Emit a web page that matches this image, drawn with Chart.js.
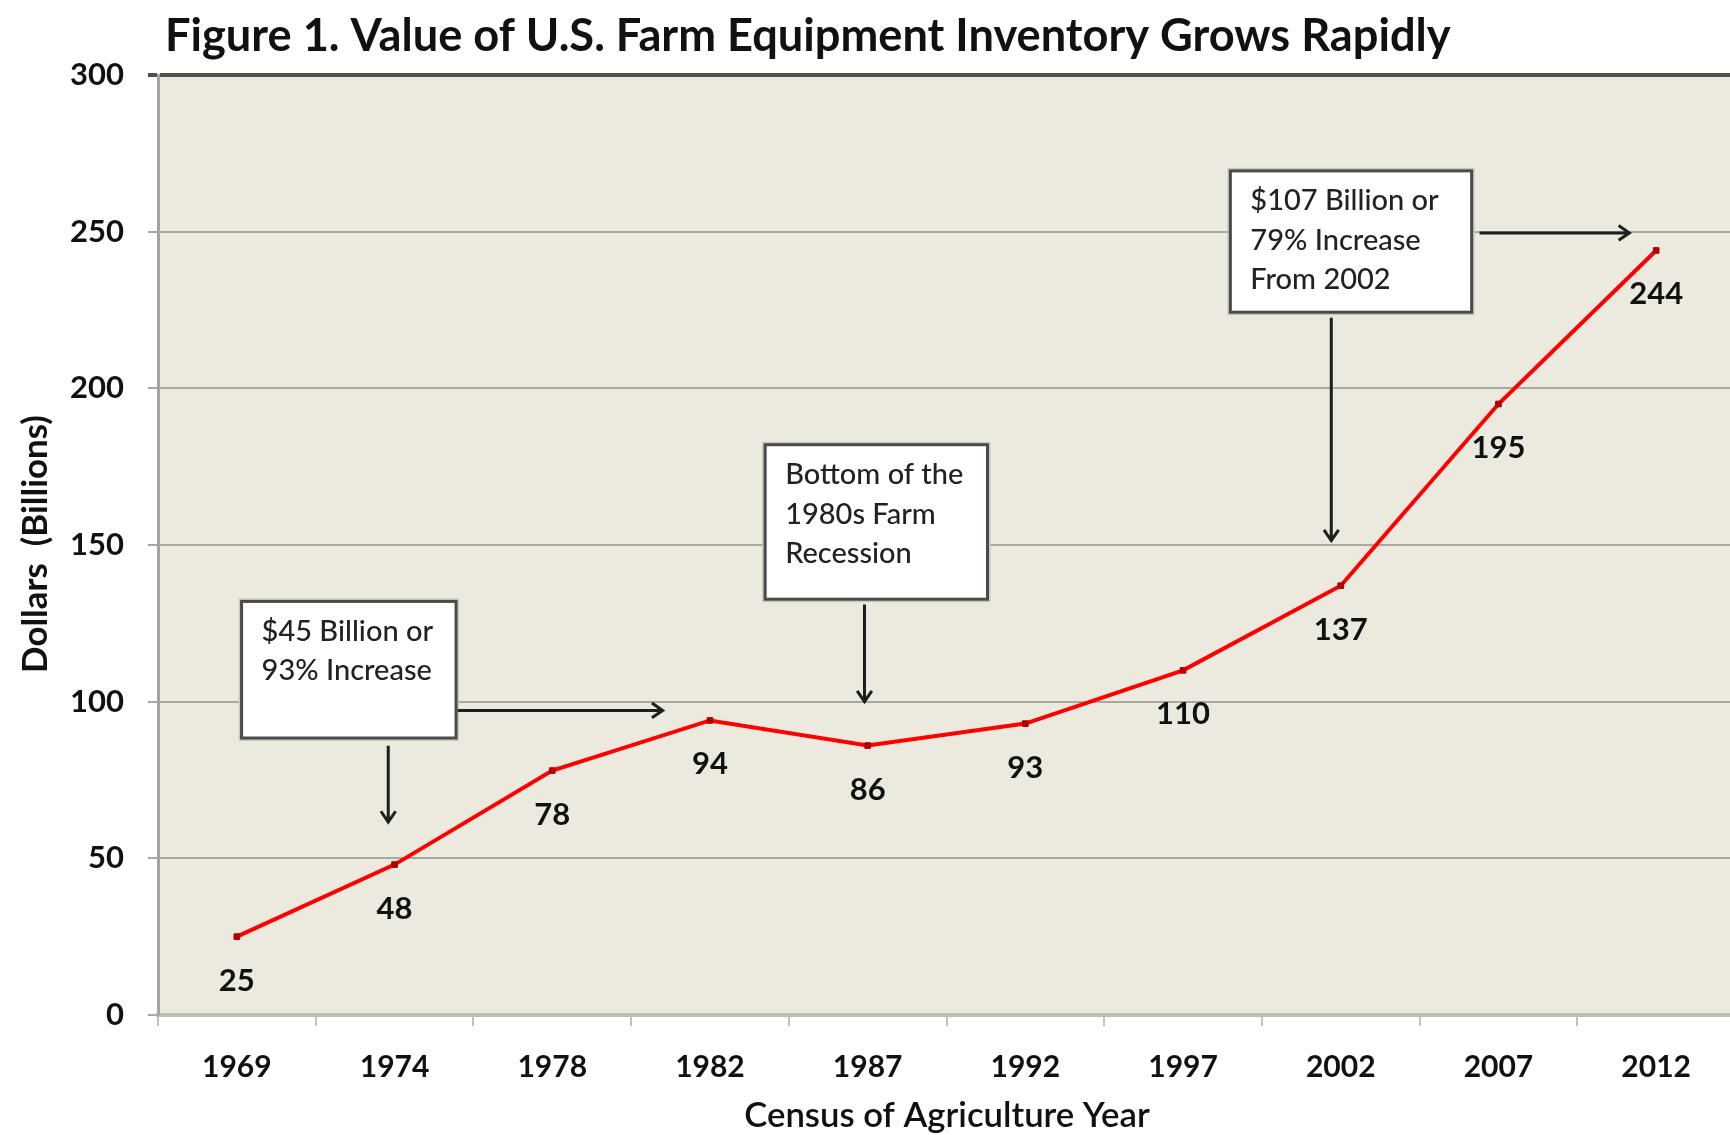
<!DOCTYPE html>
<html>
<head>
<meta charset="utf-8">
<script src="https://cdn.jsdelivr.net/npm/chart.js@4.4.1/dist/chart.umd.min.js"></script>
<style>
  html, body { margin: 0; padding: 0; background: #fff; overflow: hidden; }
  canvas { display: block; }
</style>
</head>
<body>
<canvas id="myChart" width="1740" height="1135"></canvas>
<script>
// data
const years = ['1969', '1974', '1978', '1982', '1987', '1992', '1997', '2002', '2007', '2012'];
const values = [25, 48, 78, 94, 86, 93, 110, 137, 195, 244];
const yMin = 0;
const yMax = 300;
const yStep = 50;

const titleText = 'Figure 1. Value of U.S. Farm Equipment Inventory Grows Rapidly';
const yTitle = 'Dollars  (Billions)';
const xTitle = 'Census of Agriculture Year';

const noteTexts = [
    ['$45 Billion or', '93% Increase'],
    ['Bottom of the', '1980s Farm', 'Recession'],
    ['$107 Billion or', '79% Increase', 'From 2002']
];
// boxes and arrows, in category index / value units
const noteBoxes = [
    { x0: 0.03, x1: 1.39, y0: 132, y1: 88.4 },
    { x0: 3.35, x1: 4.76, y0: 182, y1: 132.7 },
    { x0: 6.30, x1: 7.83, y0: 269.4, y1: 224.3 }
];
const noteArrows = [
    { x0: 0.96, y0: 85.9, x1: 0.96, y1: 61.6 },
    { x0: 1.40, y0: 97.2, x1: 2.70, y1: 97.2 },
    { x0: 3.98, y0: 131, x1: 3.98, y1: 100 },
    { x0: 6.94, y0: 222.5, x1: 6.94, y1: 151.4 },
    { x0: 7.88, y0: 249.6, x1: 8.83, y1: 249.6 }
];

const fontFamily = 'Lato, "Open Sans", sans-serif';
Chart.defaults.font.family = fontFamily;
Chart.defaults.color = '#111';

function fitFont(ctx, text, width, weight) {
    ctx.font = weight + ' 100px ' + fontFamily;
    let size = 100 * width / ctx.measureText(text).width;
    return weight + ' ' + size.toFixed(1) + 'px ' + fontFamily;
}

function drawArrow(ctx, x0, y0, x1, y1) {
    let a = Math.atan2(y1 - y0, x1 - x0);
    let h = 13;
    ctx.beginPath();
    ctx.moveTo(x0, y0);
    ctx.lineTo(x1, y1);
    ctx.moveTo(x1 - h * Math.cos(a - 0.6), y1 - h * Math.sin(a - 0.6));
    ctx.lineTo(x1, y1);
    ctx.lineTo(x1 - h * Math.cos(a + 0.6), y1 - h * Math.sin(a + 0.6));
    ctx.stroke();
}

const extrasPlugin = {
    id: 'extras',
    beforeDraw(chart) {
        const { ctx, chartArea } = chart;
        ctx.save();
        ctx.fillStyle = '#ECE9DF';
        ctx.fillRect(chartArea.left, chartArea.top, chartArea.right - chartArea.left, chartArea.bottom - chartArea.top);
        ctx.restore();
    },
    afterDatasetsDraw(chart) {
        const { ctx } = chart;
        const xs = chart.scales.x;
        const ys = chart.scales.y;
        ctx.save();

        // value labels under each point
        ctx.fillStyle = '#111';
        ctx.font = 'bold 31px ' + fontFamily;
        ctx.textAlign = 'center';
        ctx.textBaseline = 'middle';
        chart.getDatasetMeta(0).data.forEach((pt, i) => {
            ctx.fillText(String(values[i]), pt.x, pt.y + 44);
        });

        // annotation boxes
        noteBoxes.forEach((b, i) => {
            let l = xs.getPixelForValue(b.x0), r = xs.getPixelForValue(b.x1);
            let t = ys.getPixelForValue(b.y0), bt = ys.getPixelForValue(b.y1);
            ctx.fillStyle = '#CBC8BF';
            ctx.fillRect(l - 3, t - 3, r - l + 6, bt - t + 6);
            ctx.fillStyle = '#fff';
            ctx.fillRect(l, t, r - l, bt - t);
            ctx.strokeStyle = '#4A4A48';
            ctx.lineWidth = 3;
            ctx.strokeRect(l, t, r - l, bt - t);
            ctx.fillStyle = '#222';
            ctx.font = '500 29px ' + fontFamily;
            ctx.textAlign = 'left';
            ctx.textBaseline = 'middle';
            noteTexts[i].forEach((line, j) => {
                ctx.fillText(line, l + 20, t + 30 + j * 39.5);
            });
        });

        // arrows
        ctx.strokeStyle = '#1E1E1E';
        ctx.lineWidth = 3;
        noteArrows.forEach(a => {
            drawArrow(ctx, xs.getPixelForValue(a.x0), ys.getPixelForValue(a.y0),
                xs.getPixelForValue(a.x1), ys.getPixelForValue(a.y1));
        });

        // titles
        ctx.fillStyle = '#111';
        ctx.textBaseline = 'middle';
        ctx.textAlign = 'left';
        ctx.font = fitFont(ctx, titleText, 1285, 'bold');
        ctx.fillText(titleText, 165, 36);

        ctx.textAlign = 'center';
        ctx.font = fitFont(ctx, xTitle, 406, '600');
        ctx.fillText(xTitle, 947, 1116);

        ctx.translate(36, 544);
        ctx.rotate(-Math.PI / 2);
        ctx.font = fitFont(ctx, yTitle, 258, 'bold');
        ctx.fillText(yTitle, 0, 0);
        ctx.restore();
    }
};

const config = {
    type: 'line',
    data: {
        labels: years,
        datasets: [{
            data: values,
            borderColor: '#FF0000',
            borderWidth: 4,
            backgroundColor: '#B00000',
            pointStyle: 'rect',
            pointRadius: 4,
            pointBorderColor: '#B00000',
            pointBorderWidth: 1,
            tension: 0
        }]
    },
    options: {
        responsive: false,
        devicePixelRatio: 1,
        animation: false,
        layout: { padding: { top: 75, right: 4, left: 0, bottom: 0 } },
        plugins: {
            legend: { display: false },
            tooltip: { enabled: false },
            title: { display: false }
        },
        scales: {
            x: {
                offset: true,
                afterFit: (scale) => { scale.height = 120; },
                grid: {
                    offset: true,
                    drawOnChartArea: false,
                    color: '#C4C2BA',
                    lineWidth: 2,
                    tickLength: 11
                },
                border: { color: '#BEBCB4', width: 4 },
                ticks: {
                    padding: 23,
                    font: { size: 30, weight: 'bold' },
                    color: '#111',
                    maxRotation: 0
                }
            },
            y: {
                min: yMin,
                max: yMax,
                afterFit: (scale) => { scale.width = 158; },
                grid: {
                    color: (c) => c.tick && c.tick.value === yMax ? '#505050' : '#A9A8A0',
                    lineWidth: (c) => c.tick && c.tick.value === yMax ? 4 : 2,
                    tickLength: 10
                },
                border: { color: '#A5A49E', width: 3 },
                ticks: {
                    stepSize: yStep,
                    padding: 24,
                    font: { size: 31, weight: 'bold' },
                    color: '#111'
                }
            }
        }
    },
    plugins: [extrasPlugin]
};

let myChart = document.querySelector('#myChart');
new Chart(myChart, config);
</script>
</body>
</html>
